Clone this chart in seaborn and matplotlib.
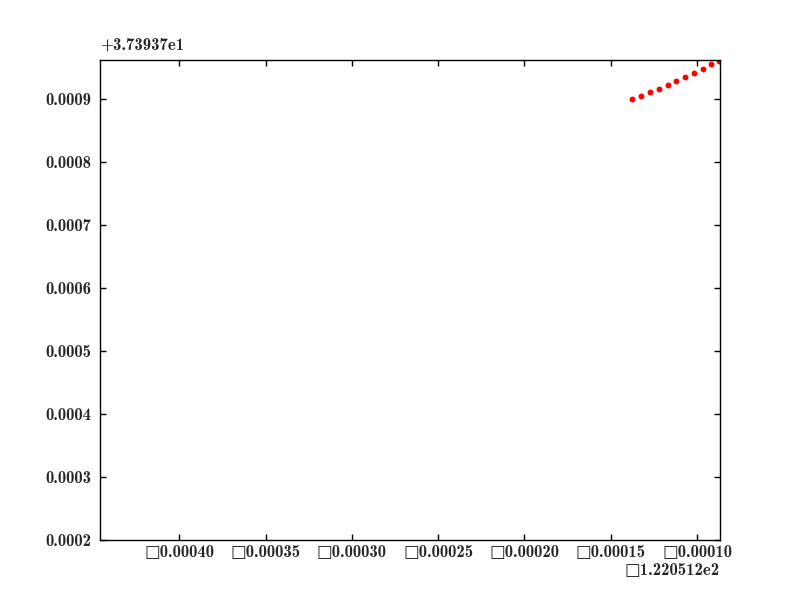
import numpy as np
import pandas as pd
import matplotlib
matplotlib.use("Agg")
import matplotlib.pyplot as plt
import seaborn as sns

# offsets shown by the axis formatter
x_offset = -122.0512
y_offset = 37.3937

# points (relative to offsets)
x_rel = [-0.0001376, -0.0001324, -0.0001272, -0.0001220, -0.0001168, -0.0001121,
         -0.0001069, -0.0001017, -0.0000965, -0.0000918, -0.0000872]
y_rel = [0.0008995, 0.0009043, 0.0009106, 0.0009154, 0.0009222, 0.0009281,
         0.0009344, 0.0009408, 0.0009471, 0.0009551, 0.0009603]

x_ticks = [-0.00040, -0.00035, -0.00030, -0.00025, -0.00020, -0.00015, -0.00010]
x_labels = ["\u25a10.00040", "\u25a10.00035", "\u25a10.00030", "\u25a10.00025",
            "\u25a10.00020", "\u25a10.00015", "\u25a10.00010"]
y_ticks = [0.0002, 0.0003, 0.0004, 0.0005, 0.0006, 0.0007, 0.0008, 0.0009]
y_labels = ["0.0002", "0.0003", "0.0004", "0.0005", "0.0006", "0.0007", "0.0008", "0.0009"]

df = pd.DataFrame({"lon": np.array(x_rel) + x_offset, "lat": np.array(y_rel) + y_offset})

sns.set_style("ticks")
plt.rcParams["font.family"] = ["cmb10", "DejaVu Serif", "DejaVu Sans"]
plt.rcParams["font.weight"] = "bold"
plt.rcParams["xtick.direction"] = "in"
plt.rcParams["ytick.direction"] = "in"
plt.rcParams["xtick.top"] = True
plt.rcParams["ytick.right"] = True
plt.rcParams["xtick.major.size"] = 4
plt.rcParams["ytick.major.size"] = 4

fig = plt.figure(figsize=(8, 6), dpi=100)
ax = fig.add_axes([0.125, 0.1, 0.775, 0.8])
sns.scatterplot(data=df, x="lon", y="lat", color="red", s=18, edgecolor="red",
                linewidth=0, ax=ax, clip_on=True)

ax.set_xlim(x_offset - 0.000446, x_offset - 0.0000867)
ax.set_ylim(y_offset + 0.0002, y_offset + 0.000962)
ax.set_xticks([x_offset + t for t in x_ticks])
ax.set_xticklabels(x_labels, fontsize=12, fontweight="bold")
ax.set_yticks([y_offset + t for t in y_ticks])
ax.set_yticklabels(y_labels, fontsize=12, fontweight="bold")
ax.set_xlabel("")
ax.set_ylabel("")
ax.tick_params(axis="y", pad=6, width=1, color="black")
ax.tick_params(axis="x", pad=3.5, width=1, color="black")
for sp in ax.spines.values():
    sp.set_linewidth(1)
    sp.set_color("black")

fig.text(0.125, 0.912, "+3.73937e1", fontsize=12, fontweight="bold", ha="left", va="bottom")
fig.text(0.9, 0.0617, "\u25a11.220512e2", fontsize=12, fontweight="bold", ha="right", va="top")

fig.savefig("out.png", dpi=100)
